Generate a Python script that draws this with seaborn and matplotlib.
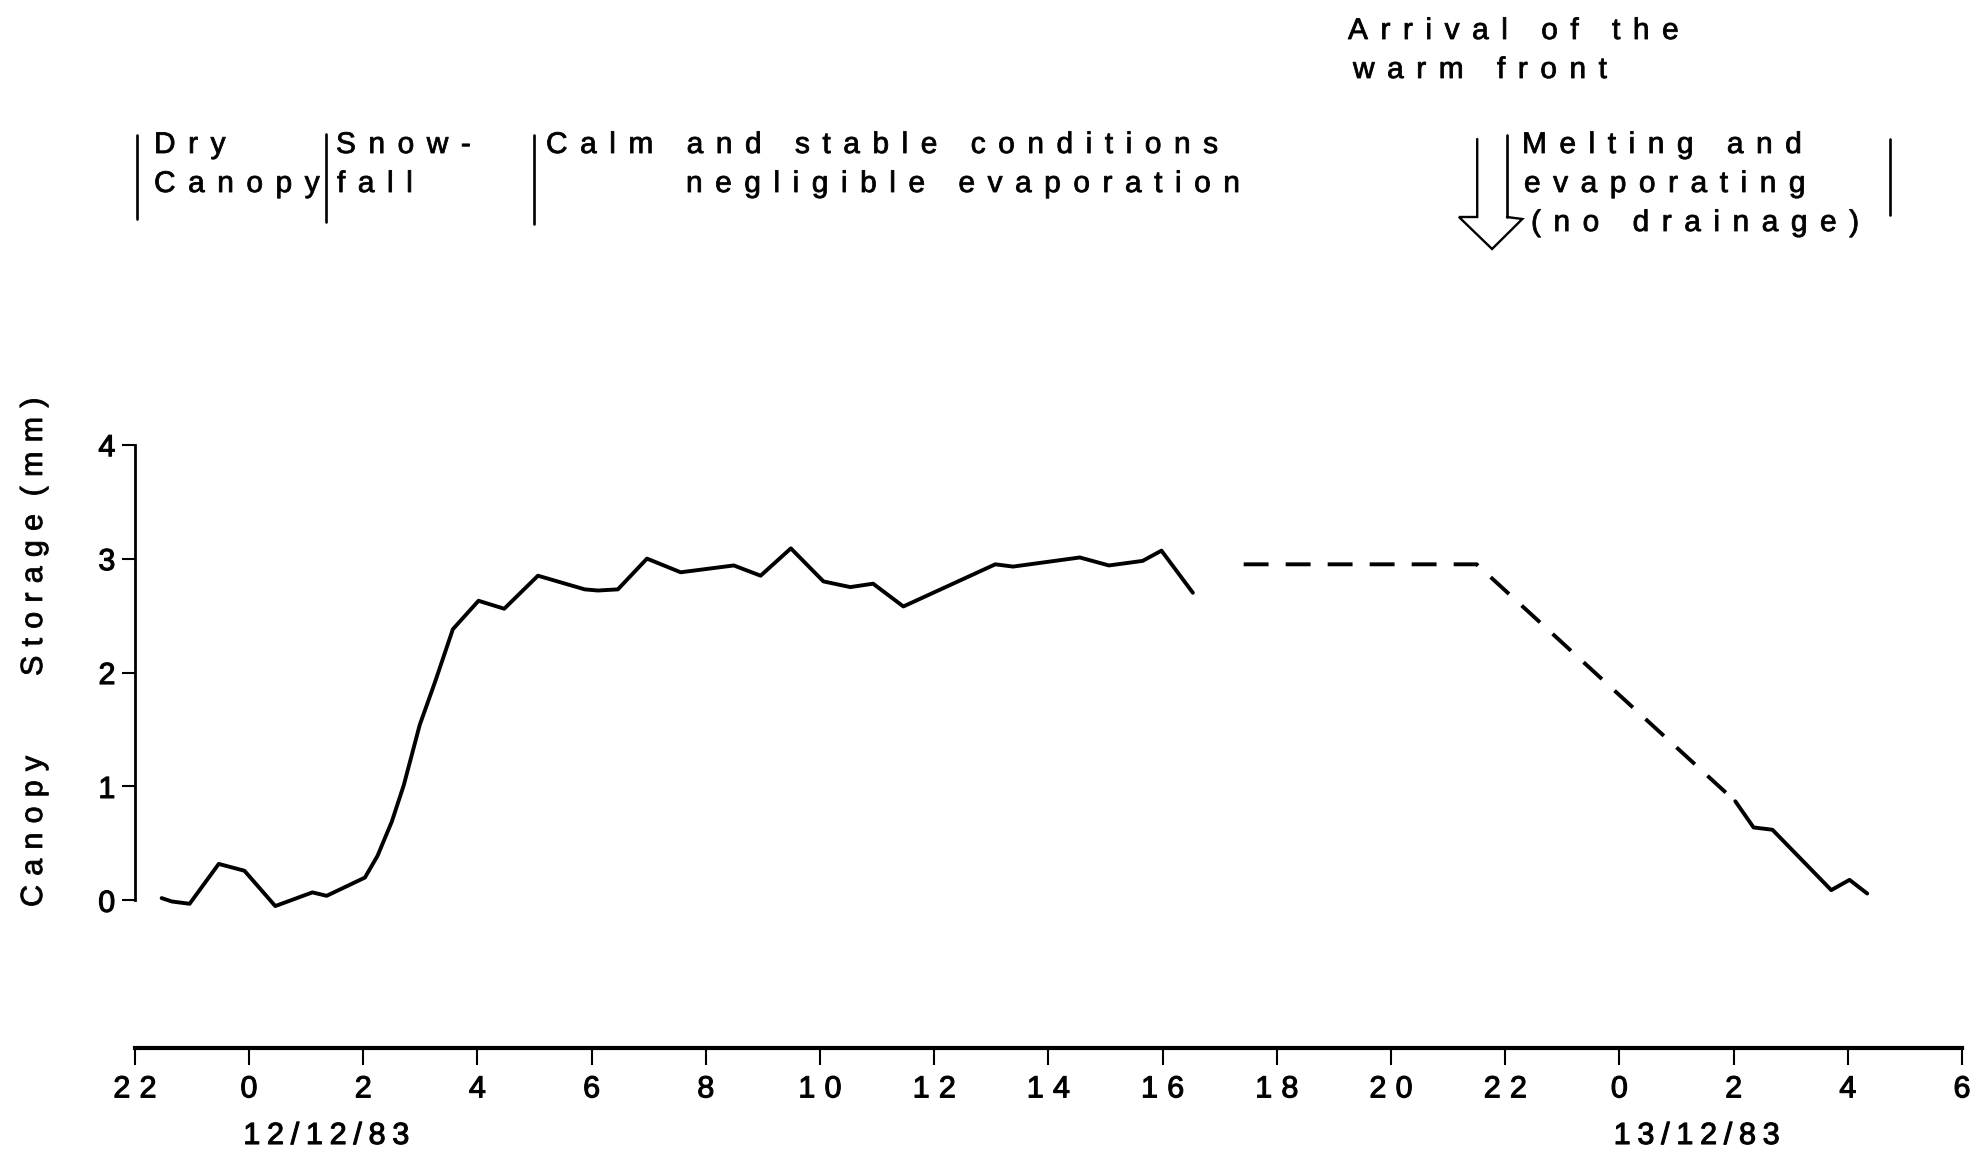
import numpy as np
import pandas as pd
import matplotlib
matplotlib.use("Agg")
import matplotlib.pyplot as plt
import matplotlib.patheffects as pe
from matplotlib.path import Path
from matplotlib import transforms
from matplotlib.lines import Line2D
import seaborn as sns

# Canopy snow storage (mm); time in hours counted from 00:00 on 12/12/83
measured_hours = [-1.53, -1.35, -1.04, -0.53, -0.08, 0.46, 1.11, 1.36, 2.03, 2.25,
                  2.50, 2.71, 2.99, 3.26, 3.57, 4.02, 4.47, 5.06, 5.88, 6.11,
                  6.46, 6.97, 7.56, 8.49, 8.96, 9.49, 10.06, 10.53, 10.93, 11.46,
                  13.07, 13.38, 14.55, 15.06, 15.65, 15.98, 16.53]
measured_storage = [0.02, -0.01, -0.03, 0.32, 0.26, -0.05, 0.07, 0.04, 0.20, 0.39,
                    0.69, 1.01, 1.54, 1.92, 2.38, 2.63, 2.56, 2.85, 2.73, 2.72,
                    2.73, 3.00, 2.88, 2.94, 2.85, 3.09, 2.80, 2.75, 2.78, 2.58,
                    2.95, 2.93, 3.01, 2.94, 2.98, 3.07, 2.70]

estimated_hours = [17.42, 21.50, 26.03]
estimated_storage = [2.95, 2.95, 0.87]

melt_hours = [26.03, 26.35, 26.68, 27.71, 28.03, 28.34]
melt_storage = [0.87, 0.64, 0.62, 0.09, 0.18, 0.06]

x_ticks = list(range(-2, 31, 2))
x_tick_labels = [str(h % 24) for h in x_ticks]
y_ticks = [0, 1, 2, 3, 4]
date_labels = ["12/12/83", "13/12/83"]
date_hours = [0, 24]

# phase boundaries (hours) and the arrival of the warm front
phase_bounds = [-1.96, 1.35, 4.99, 22.03, 28.74]
front_arrival = 21.77

segments = [(measured_hours, measured_storage, "measured"),
            (estimated_hours, estimated_storage, "estimated"),
            (melt_hours, melt_storage, "measured")]
df = pd.concat([pd.DataFrame({"hour": h, "storage": s, "kind": k, "segment": i})
                for i, (h, s, k) in enumerate(segments)], ignore_index=True)


class Tracking(pe.AbstractPathEffect):
    """Draw text with extra letter spacing (given in em) and a light outline."""

    def __init__(self, track=0.4, space=0.4, align="left", stroke=0.6):
        super().__init__()
        self.track = track * 100.0      # text paths use a 100-unit em
        self.space = space * 100.0
        self.align = align
        self.stroke = stroke

    def draw_path(self, renderer, gc, tpath, affine, rgbFace=None):
        codes = tpath.codes
        verts = np.array(tpath.vertices, dtype=float)
        if codes is None or len(verts) == 0:
            renderer.draw_path(gc, tpath, affine, rgbFace)
            return
        starts = np.flatnonzero(codes == Path.MOVETO)
        ends = np.append(starts[1:], len(codes))
        boxes = []
        for s, e in zip(starts, ends):
            sel = codes[s:e] != Path.CLOSEPOLY
            xs = verts[s:e, 0][sel]
            if len(xs) == 0:
                continue
            boxes.append((xs.min(), xs.max(), s, e))
        boxes.sort(key=lambda b: b[0])
        glyphs = []
        for lo, hi, s, e in boxes:
            c = 0.5 * (lo + hi)
            if glyphs and glyphs[-1][0] <= c <= glyphs[-1][1]:
                glyphs[-1][1] = max(glyphs[-1][1], hi)
                glyphs[-1][2].append((s, e))
            else:
                glyphs.append([lo, hi, [(s, e)]])
        shift = 0.0
        prev_hi = None
        for lo, hi, parts in glyphs:
            if prev_hi is not None:
                shift += self.track
                if lo - prev_hi > 26:
                    shift += self.space
            for s, e in parts:
                verts[s:e, 0] += shift
            prev_hi = hi
        if self.align == "center":
            verts[:, 0] -= shift / 2
        elif self.align == "right":
            verts[:, 0] -= shift
        gc0 = renderer.new_gc()
        gc0.copy_properties(gc)
        if self.stroke > 0 and rgbFace is not None:
            gc0.set_foreground(rgbFace)
            gc0.set_linewidth(self.stroke)
            gc0.set_joinstyle("round")
        renderer.draw_path(gc0, Path(verts, codes), affine, rgbFace)
        gc0.restore()


sns.set_style("ticks", {"axes.edgecolor": "black", "xtick.color": "black",
                        "ytick.color": "black", "text.color": "black",
                        "axes.labelcolor": "black"})
plt.rcParams["font.family"] = ["Liberation Sans", "DejaVu Sans"]

W, H = 1981, 1158
fig = plt.figure(figsize=(W / 100, H / 100), dpi=100, facecolor="white")
ax = fig.add_axes([134.8 / W, 1 - 1048.0 / H, (1962 - 134.8) / W, (1048.0 - 444.7) / H])

sns.lineplot(data=df, x="hour", y="storage", units="segment", style="kind",
             dashes={"measured": "", "estimated": (6.4, 4.4)},
             estimator=None, sort=False, color="black", linewidth=2.8,
             legend=False, ax=ax)

ax.set_xlim(-2, 30)
ax.set_ylim(-1.296, 4.0)
ax.set_xlabel("")
ax.set_ylabel("")
ax.set_xticks(x_ticks)
ax.set_xticklabels(x_tick_labels)
ax.set_yticks(y_ticks)
ax.set_yticklabels([str(v) for v in y_ticks])
for side in ("top", "right"):
    ax.spines[side].set_visible(False)
ax.spines["left"].set_bounds(0, 4)
ax.spines["left"].set_linewidth(2.0)
ax.spines["bottom"].set_linewidth(3.0)
ax.tick_params(axis="x", direction="out", length=12, width=1.5, pad=7, labelsize=22)
ax.tick_params(axis="y", direction="out", length=9.5, width=1.5, pad=4.5, labelsize=22)

for lab in ax.get_xticklabels():
    lab.set_path_effects([Tracking(0.3, 0.0, "center", 0.8)])
for lab in ax.get_yticklabels():
    lab.set_path_effects([Tracking(0.0, 0.0, "right", 0.8)])

# date labels under the midnight ticks
xdate = transforms.blended_transform_factory(ax.transData, fig.transFigure)
for d, h in zip(date_labels, date_hours):
    t = ax.text(h - 0.1, 1 - 1144 / H, d, transform=xdate, fontsize=22,
                ha="left", va="baseline", clip_on=False)
    t.set_path_effects([Tracking(0.22, 0.0, "left", 0.8)])

# y-axis label, written as two spaced words
for word, ypx in (("Canopy", 907), ("Storage (mm)", 676)):
    t = fig.text(42 / W, 1 - ypx / H, word, rotation=90, rotation_mode="anchor",
                 ha="left", va="baseline", fontsize=22)
    t.set_path_effects([Tracking(0.3, 0.0, "left", 0.6)])

# phase annotations above the plot
annotations = [
    ("Dry", 154, 153), ("Canopy", 154, 192),
    ("Snow-", 336, 153), ("fall", 337, 192),
    ("Calm and stable conditions", 546, 153),
    ("negligible evaporation", 686, 192),
    ("Arrival of the", 1348, 39), ("warm front", 1353, 78),
    ("Melting and", 1522, 153), ("evaporating", 1524, 192),
    ("(no drainage)", 1531, 231),
]
for txt, xpx, ypx in annotations:
    t = fig.text(xpx / W, 1 - ypx / H, txt, ha="left", va="baseline", fontsize=21.5)
    t.set_path_effects([Tracking(0.42, 0.42, "left", 0.6)])

# vertical phase bars
bar_spans = [(135, 219), (134, 222), (135, 224), (135, 217), (139, 215)]
for xb, (top, bot) in zip(phase_bounds, bar_spans):
    ax.add_line(Line2D([xb, xb], [1 - top / H, 1 - bot / H], transform=xdate,
                       color="black", lw=1.9, clip_on=False))

# open arrow for the warm front
shaft_hw, head_hw = 0.26, 0.58
arrow_x = [front_arrival - shaft_hw, front_arrival - shaft_hw, front_arrival - head_hw,
           front_arrival, front_arrival + head_hw - 0.05, front_arrival + shaft_hw]
arrow_y = [139, 217, 217, 249, 219, 217]
ax.add_line(Line2D(arrow_x, [1 - v / H for v in arrow_y], transform=xdate,
                   color="black", lw=1.7, clip_on=False, solid_joinstyle="miter"))

fig.savefig("out.png", dpi=100, facecolor="white")
